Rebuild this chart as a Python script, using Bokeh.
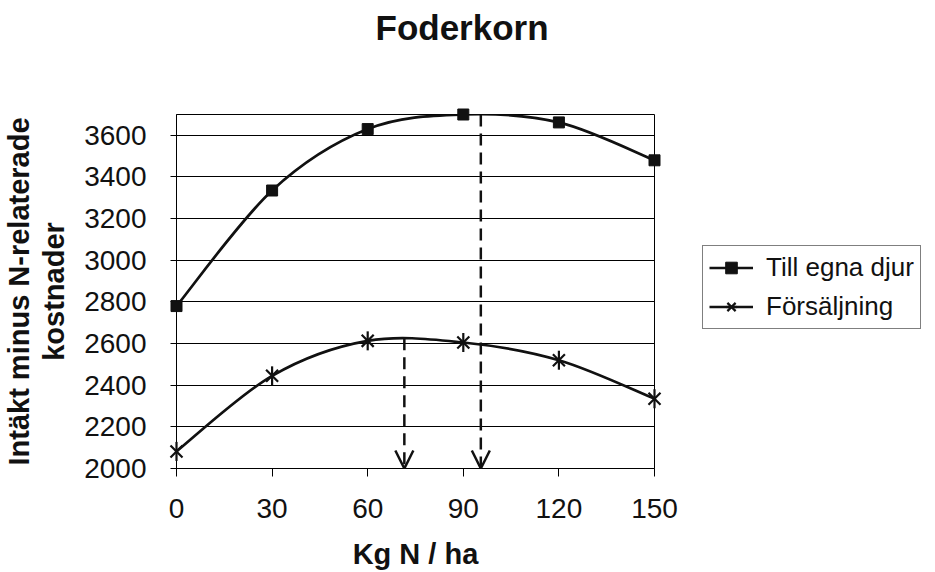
import math
from bokeh.plotting import figure
from bokeh.layouts import row
from bokeh.models import (Legend, LegendItem, Arrow, OpenHead, Range1d,
                          FixedTicker, ColumnDataSource, Title)
from bokeh.embed import file_html
from bokeh.resources import INLINE

# ---- data ----
kg_n = [0, 30, 60, 90, 120, 150]
till_egna_djur = [2780, 3335, 3630, 3700, 3662, 3480]
forsaljning = [2082, 2445, 2613, 2605, 2520, 2335]
series_names = ["Till egna djur", "Försäljning"]
x_ticks = [0, 30, 60, 90, 120, 150]
y_ticks = [2000, 2200, 2400, 2600, 2800, 3000, 3200, 3400, 3600]
opt_x = [71.5, 95.5]          # optimum N levels (arrows)
opt_top = [2625, 3700]
title_text = "Foderkorn"
x_label = "Kg N / ha"
y_label = "Intäkt minus N-relaterade\nkostnader"

FONT = "Liberation Sans"
INK = "#111111"


def smooth_segments(xs, ys):
    """Bezier control points for an Excel-like smoothed line through the data."""
    n = len(xs)
    d = dict(x0=[], y0=[], x1=[], y1=[], cx0=[], cy0=[], cx1=[], cy1=[])
    for i in range(n - 1):
        pm = max(i - 1, 0)
        pp = min(i + 2, n - 1)
        d["x0"].append(xs[i]); d["y0"].append(ys[i])
        d["x1"].append(xs[i + 1]); d["y1"].append(ys[i + 1])
        d["cx0"].append(xs[i] + (xs[i + 1] - xs[pm]) / 6)
        d["cy0"].append(ys[i] + (ys[i + 1] - ys[pm]) / 6)
        d["cx1"].append(xs[i + 1] - (xs[pp] - xs[i]) / 6)
        d["cy1"].append(ys[i + 1] - (ys[pp] - ys[i]) / 6)
    return ColumnDataSource(d)


def add_series(fig, level="glyph"):
    """Markers for both series; returns renderers for the legend key."""
    m1 = fig.scatter(kg_n, till_egna_djur, marker="square", size=11,
                     fill_color=INK, line_color=INK, level=level)
    m2a = fig.scatter(kg_n, forsaljning, marker="x", size=17,
                      line_color=INK, line_width=2.2, level=level)
    m2b = fig.scatter(kg_n, forsaljning, marker="dash", size=19, angle=math.pi / 2,
                      line_color=INK, line_width=2.2, level=level)
    return m1, m2a, m2b


# ---------------- main chart ----------------
p = figure(width=700, height=572, output_backend="svg", toolbar_location=None,
           x_range=Range1d(0, 150), y_range=Range1d(2000, 3700),
           min_border_left=175, min_border_right=46,
           min_border_top=113, min_border_bottom=104,
           background_fill_color="white", border_fill_color="white",
           title=None)

# spacer + title (titles added later sit further from the frame)
p.add_layout(Title(text=" ", text_font_size="45px", text_font=FONT), "above")
p.add_layout(Title(text=title_text, text_font=FONT, text_font_size="35px",
                   text_font_style="bold", text_color=INK, align="left",
                   offset=199), "above")

p.outline_line_color = "black"
p.outline_line_width = 1

p.xgrid.visible = False
p.ygrid.grid_line_color = "black"
p.ygrid.grid_line_width = 1
p.ygrid.ticker = FixedTicker(ticks=y_ticks)

p.xaxis.ticker = FixedTicker(ticks=x_ticks)
p.yaxis.ticker = FixedTicker(ticks=y_ticks)
for ax in (p.xaxis, p.yaxis):
    ax.axis_line_color = "black"
    ax.major_tick_line_color = "black"
    ax.minor_tick_line_color = None
    ax.major_tick_in = 0
    ax.major_label_text_font = FONT
    ax.major_label_text_font_size = "28px"
    ax.major_label_text_color = INK
    ax.axis_label_text_font = FONT
    ax.axis_label_text_font_style = "bold"
    ax.axis_label_text_color = INK
p.xaxis.axis_label_text_font_size = "29px"
p.xaxis.axis_label_text_line_height = 1.0
p.xaxis.major_label_text_line_height = 1.0
p.yaxis.axis_label_text_font_size = "29px"
p.yaxis.axis_label_text_line_height = 1.1
p.xaxis.major_tick_out = 8
p.yaxis.major_tick_out = 6
p.xaxis.major_label_standoff = 22
p.yaxis.major_label_standoff = 24
p.xaxis.axis_label = x_label
p.yaxis.axis_label = y_label
p.xaxis.axis_label_standoff = 17
p.yaxis.axis_label_standoff = 11

# smoothed lines
for ys in (till_egna_djur, forsaljning):
    p.bezier(x0="x0", y0="y0", x1="x1", y1="y1", cx0="cx0", cy0="cy0",
             cx1="cx1", cy1="cy1", source=smooth_segments(kg_n, ys),
             line_color=INK, line_width=2.7)
add_series(p, level="overlay")

# arrows to optimum
for xo, yo in zip(opt_x, opt_top):
    p.add_layout(Arrow(end=OpenHead(size=18, line_width=2.5, line_color=INK),
                       x_start=xo, y_start=yo, x_end=xo, y_end=2000,
                       line_dash="12 7", line_width=2.5, line_color=INK))

# ---------------- legend panel ----------------
q = figure(width=235, height=572, output_backend="svg", toolbar_location=None,
           x_range=Range1d(1000, 1001), y_range=Range1d(0, 1),
           x_axis_location=None, y_axis_location=None, min_border=0,
           background_fill_color="white", border_fill_color="white")
q.outline_line_color = None
q.grid.visible = False
ql1 = q.line(kg_n, till_egna_djur, line_color=INK, line_width=2.7)
ql2 = q.line(kg_n, forsaljning, line_color=INK, line_width=2.7)
qm1, qm2a, qm2b = add_series(q)

legend = Legend(items=[LegendItem(label=series_names[0], renderers=[ql1, qm1]),
                       LegendItem(label=series_names[1], renderers=[ql2, qm2a, qm2b])],
                location=(2, 139), orientation="vertical",
                label_text_font=FONT, label_text_font_size="26px",
                label_text_color=INK,
                glyph_width=44, glyph_height=29, label_height=29,
                spacing=8, padding=6, margin=0, label_standoff=13,
                border_line_color="black", border_line_width=1,
                background_fill_color="white", background_fill_alpha=1)
q.add_layout(legend, "center")

layout = row(p, q, spacing=0)
open("out.html", "w").write(file_html(layout, INLINE))
